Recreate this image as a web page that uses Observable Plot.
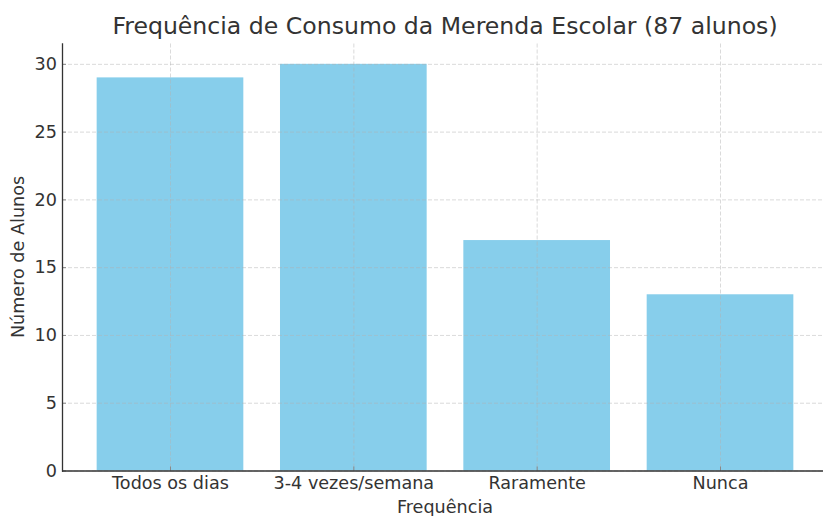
<!DOCTYPE html>
<html>
<head>
<meta charset="utf-8">
<script src="https://cdn.jsdelivr.net/npm/d3@7"></script>
<script src="https://cdn.jsdelivr.net/npm/@observablehq/plot@0.6"></script>
<style>
  html, body { margin: 0; padding: 0; background: #fff; }
  #wrap { position: relative; width: 823px; height: 516px; overflow: hidden; font-family: "DejaVu Sans", sans-serif; color: #333; }
  .lbl { position: absolute; white-space: nowrap; line-height: 1; }
  #title { font-size: 23.6px; left: 445px; top: 15px; transform: translateX(-50%); }
  #xlabel { font-size: 17.6px; left: 445px; top: 499px; transform: translateX(-50%); }
  #ylabel { font-size: 17.6px; left: 18.5px; top: 257px; transform: translate(-50%, -50%) rotate(-90deg); }
</style>
</head>
<body>
<div id="wrap">
  <div id="chart"></div>
  <div class="lbl" id="title"></div>
  <div class="lbl" id="xlabel"></div>
  <div class="lbl" id="ylabel"></div>
</div>
<script>
const titleText = "Frequência de Consumo da Merenda Escolar (87 alunos)";
const xLabel = "Frequência";
const yLabel = "Número de Alunos";
const categories = ["Todos os dias", "3-4 vezes/semana", "Raramente", "Nunca"];
const counts = [29, 30, 17, 13];
const yTicks = [0, 5, 10, 15, 20, 25, 30];

const data = categories.map((c, i) => ({cat: c, n: counts[i]}));

document.getElementById("title").textContent = titleText;
document.getElementById("xlabel").textContent = xLabel;
document.getElementById("ylabel").textContent = yLabel;

const gridStyle = {stroke: "#b0b0b0", strokeOpacity: 0.6, strokeWidth: 0.8, strokeDasharray: "4,2"};

const chart = Plot.plot({
  width: 823,
  height: 516,
  marginLeft: 62,
  marginRight: 0,
  marginTop: 43.5,
  marginBottom: 45.5,
  style: {fontFamily: "DejaVu Sans, sans-serif", fontSize: "17.6px", color: "#333", background: "#fff"},
  x: {type: "band", domain: categories, range: [62, 828], paddingInner: 0.2, paddingOuter: 0.189, round: false, label: null},
  y: {domain: [0, 31.5], label: null},
  marks: [
    Plot.barY(data, {x: "cat", y: "n", fill: "#87CEEB"}),
    Plot.gridY(yTicks, gridStyle),
    Plot.gridX(categories, gridStyle),
    Plot.axisY(yTicks, {tickSize: -4, tickPadding: 9.5, stroke: "#888", fill: "#333", fontSize: 17.6, label: null}),
    Plot.axisX(categories, {tickSize: -4, tickPadding: 9, stroke: "#888", fill: "#333", fontSize: 17.6, label: null}),
    Plot.ruleY([0], {stroke: "#333", strokeWidth: 1.3}),
    Plot.frame({anchor: "left", stroke: "#333", strokeWidth: 1.3})
  ]
});
document.getElementById("chart").appendChild(chart);
</script>
</body>
</html>
